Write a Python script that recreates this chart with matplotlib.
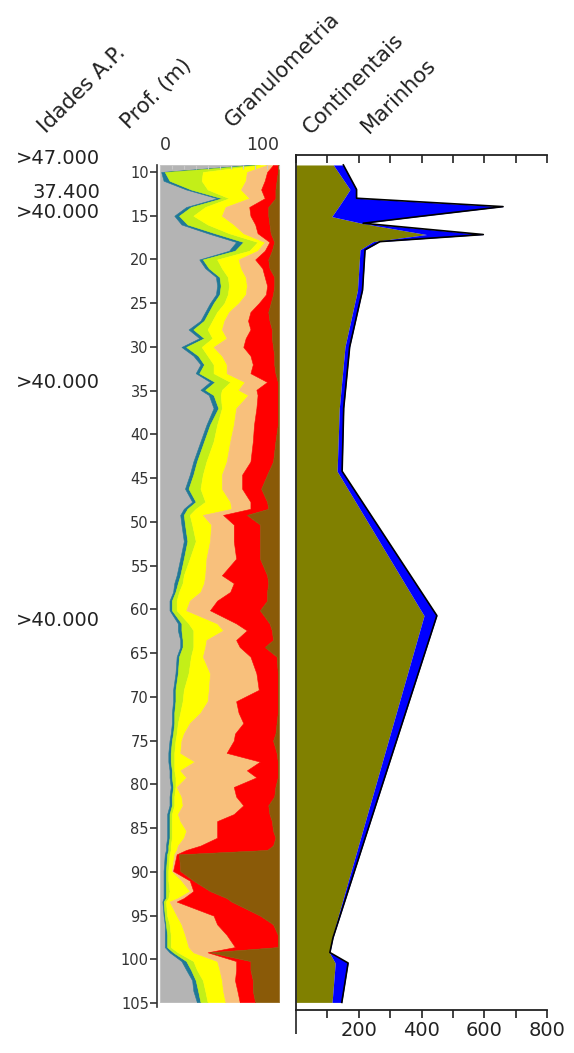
import matplotlib.pyplot as plt
import numpy as np
from matplotlib.transforms import blended_transform_factory

# perfil granulometrico (percentagem acumulada, da esquerda para a direita)
prof = [9.2, 10.0, 11.0, 12.0, 13.0, 14.0, 15.0, 16.0, 17.0, 18.0, 19.0, 20.0,
        21.0, 22.0, 23.0, 24.0, 25.0, 26.0, 27.0, 28.0, 29.0, 30.0, 31.0, 32.0,
        33.0, 34.0, 34.9, 35.5, 37.0, 38.9, 40.8, 43.1, 44.6, 46.2, 47.7, 48.5,
        49.2, 50.3, 52.2, 54.2, 56.1, 57.0, 58.0, 59.0, 60.1, 61.6, 62.4, 63.5,
        64.3, 65.4, 67.3, 69.2, 70.5, 71.8, 73.0, 74.2, 75.0, 76.4, 77.4, 78.4,
        79.2, 80.3, 81.4, 82.4, 83.4, 84.2, 85.3, 86.1, 87.0, 87.5, 88.0, 89.9,
        91.0, 92.2, 93.0, 93.4, 95.0, 96.0, 97.2, 98.6, 99.2, 100.2, 101.2,
        102.4, 103.6, 104.9]
argila = [75, 1, 3, 22, 48, 22, 12, 18, 40, 64, 58, 33, 38, 47, 48, 47, 42, 38,
          34, 24, 33, 18, 28, 34, 30, 42, 34, 41, 45, 39, 34, 28, 25, 21, 27, 20,
          17, 18, 20, 17, 14, 12, 11, 8, 8, 15, 15, 17, 17, 14, 13, 11, 11, 10,
          10, 9, 8, 7, 7, 8, 8, 9, 8, 8, 6, 6, 6, 6, 5, 5, 4, 3, 3, 3, 3, 2, 3,
          4, 4, 4, 8, 18, 22, 27, 28, 31]
silte = [80, 4, 8, 26, 52, 26, 16, 23, 46, 70, 63, 36, 41, 50, 51, 50, 45, 41,
         37, 28, 37, 22, 32, 37, 33, 46, 38, 45, 49, 42, 37, 31, 28, 24, 30, 23,
         20, 21, 23, 20, 17, 15, 13, 10, 10, 18, 18, 19, 19, 16, 15, 13, 13, 12,
         12, 11, 10, 9, 9, 10, 10, 11, 10, 10, 8, 8, 8, 8, 7, 7, 6, 5, 5, 5, 5,
         3, 4, 5, 6, 6, 11, 22, 26, 30, 32, 34]
areia_mf = [84, 36, 35, 40, 58, 38, 28, 40, 58, 82, 75, 48, 52, 57, 58, 57, 54,
            48, 44, 40, 44, 35, 40, 45, 45, 59, 52, 51, 52, 48, 45, 39, 36, 34,
            38, 30, 25, 27, 30, 25, 20, 19, 16, 14, 14, 24, 28, 28, 28, 26, 24,
            20, 19, 17, 15, 14, 13, 12, 12, 12, 13, 13, 12, 12, 10, 10, 10, 10,
            9, 9, 8, 7, 7, 8, 7, 5, 6, 8, 9, 9, 15, 28, 31, 36, 38, 40]
areia_f = [90, 73, 72, 68, 75, 55, 52, 62, 70, 88, 82, 66, 68, 72, 73, 72, 66,
           58, 54, 52, 56, 45, 52, 56, 56, 71, 66, 74, 64, 62, 59, 56, 52, 52,
           59, 60, 36, 43, 42, 39, 38, 37, 34, 25, 22, 48, 53, 39, 38, 36, 42,
           41, 40, 34, 25, 20, 18, 17, 29, 17, 22, 14, 18, 19, 15, 17, 22, 20,
           15, 14, 12, 10, 18, 25, 15, 8, 14, 18, 21, 24, 28, 48, 50, 52, 53, 55]
areia_m = [95, 90, 88, 85, 88, 75, 76, 80, 82, 92, 88, 80, 86, 88, 90, 89, 83,
           76, 74, 76, 72, 70, 76, 78, 76, 90, 81, 82, 81, 79, 78, 76, 69, 69,
           76, 76, 53, 62, 62, 64, 52, 62, 59, 48, 42, 64, 73, 64, 67, 76, 81,
           83, 64, 66, 70, 63, 62, 56, 84, 73, 81, 62, 64, 70, 62, 48, 48, 48,
           34, 22, 14, 11, 25, 28, 20, 14, 45, 48, 56, 63, 40, 64, 64, 63, 65, 67]
areia_g = [99, 99, 98, 97, 97, 91, 91, 92, 93, 96, 94, 91, 92, 96, 96, 95, 93,
           91, 92, 94, 94, 95, 96, 96, 97, 99, 99, 99, 99, 99, 97, 95, 90, 85,
           90, 91, 73, 84, 84, 84, 90, 91, 90, 90, 84, 92, 94, 95, 88, 98, 99,
           99, 99, 99, 98, 97, 95, 98, 99, 99, 99, 97, 96, 91, 92, 94, 95, 97,
           95, 90, 16, 17, 28, 42, 56, 60, 84, 95, 99, 99, 42, 76, 76, 78, 78, 80]

# bioindicadores continentais e marinhos
prof_bio = [9.2, 12.0, 13.0, 13.96, 15.1, 15.86, 17.15, 17.96, 18.9, 23.5, 30.0,
            37.0, 44.2, 60.7, 97.5, 99.2, 100.4, 104.9]
continentais = [119, 172, 154, 136, 114, 209, 416, 246, 204, 196, 156, 138, 131,
                408, 115, 106, 125, 115]
marinhos = [32, 21, 39, 524, 275, 5, 181, 21, 16, 16, 15, 14, 16, 41, 3, 2, 41, 31]

# idades
idades = [">47.000", "37.400", ">40.000", ">40.000", ">40.000"]
prof_idades = [8.4, 12.3, 14.6, 34.1, 61.3]

cores = ["#b4b4b4", "#1f7896", "#c3ef18", "#ffff00", "#f8c07c", "#ff0000", "#8a5a08"]

W, H = 574, 1053
fig = plt.figure(figsize=(W / 100, H / 100), dpi=100)


def caixa(x0, y0, x1, y1):
    return [x0 / W, 1 - y1 / H, (x1 - x0) / W, (y1 - y0) / H]


# --- granulometria ---
ax = fig.add_axes(caixa(160, 165, 279, 1007))
limites = [argila, silte, areia_mf, areia_f, areia_m, areia_g, [100] * len(prof)]
esq = np.zeros(len(prof))
for lim, cor in zip(limites, cores):
    ax.fill_betweenx(prof, esq, lim, color=cor, lw=0.4, edgecolor=cor)
    esq = np.array(lim)
ax.set_xlim(0, 100)
ax.set_ylim(105.45, 9.2)
ax.set_yticks(range(10, 106, 5))
ax.set_xticks(range(0, 101, 10))
ax.tick_params(axis="x", bottom=False, top=True, labelbottom=False,
               direction="in", length=3, width=0.8, color="#c8c8c8")
for s in ["top", "right", "bottom"]:
    ax.spines[s].set_visible(False)
ax.spines["left"].set_position(("outward", 2))
ax.spines["left"].set_color("#333333")
ax.spines["left"].set_linewidth(1.2)
ax.tick_params(axis="y", length=5, width=1.2, color="#333333",
               labelsize=10.5, labelcolor="#333333", pad=1)

tr = blended_transform_factory(ax.transData, fig.transFigure)
ax.text(0, 1 - 145 / H, "0", transform=tr, ha="left", va="center",
        fontsize=12.5, color="#333333")
ax.text(100, 1 - 145 / H, "100", transform=tr, ha="right", va="center",
        fontsize=12.5, color="#333333")

tr_id = blended_transform_factory(fig.transFigure, ax.transData)
for txt, p in zip(idades, prof_idades):
    ax.text(100 / W, p, txt, transform=tr_id, ha="right", va="center",
            fontsize=14, color="#222222", clip_on=False)

# --- bioindicadores ---
ax2 = fig.add_axes(caixa(296, 155, 547, 1010))
cont = np.array(continentais)
total = cont + np.array(marinhos)
ax2.fill_betweenx(prof_bio, 0, cont, color="#808000", lw=0)
ax2.fill_betweenx(prof_bio, cont, total, color="#0000ff", lw=0)
ax2.plot(total, prof_bio, color="black", lw=1.2)
ax2.set_xlim(0, 800)
ax2.set_ylim(105.77, 8.06)
ax2.set_yticks([])
ax2.set_xticks(range(0, 801, 100))
ax2.set_xticklabels(["", "", "200", "", "400", "", "600", "", "800"])
ax2.spines["right"].set_visible(False)
ax2.spines["top"].set_visible(False)
for s in ["left", "bottom"]:
    ax2.spines[s].set_color("#222222")
    ax2.spines[s].set_linewidth(1.3)
ax2.tick_params(axis="x", bottom=True, top=False, direction="out", length=6,
                width=1.2, color="#222222", labelsize=14, labelcolor="#222222", pad=2)
ax2.xaxis.get_major_ticks()[0].tick1line.set_markersize(17)

topo = ax2.secondary_xaxis("top")
topo.set_xticks(range(0, 801, 100))
topo.set_xticklabels([])
topo.spines["top"].set_color("#222222")
topo.spines["top"].set_linewidth(1.3)
topo.tick_params(direction="in", length=6, width=1.2, color="#222222")

# --- titulos inclinados ---
titulos = ["Idades A.P.", "Prof. (m)", "Granulometria", "Continentais", "Marinhos"]
posicoes = [(46, 134), (129, 130), (233, 128), (311, 135), (369, 134)]
for txt, (x, y) in zip(titulos, posicoes):
    fig.text(x / W, 1 - y / H, txt, rotation=45, rotation_mode="anchor",
             ha="left", va="baseline", fontsize=15.2, color="#222222")

fig.savefig("out.png", dpi=100)
